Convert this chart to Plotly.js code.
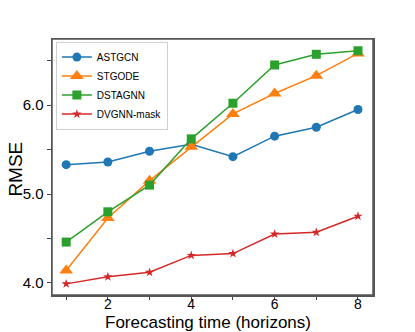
<!DOCTYPE html>
<html>
<head>
<script src="https://cdn.plot.ly/plotly-3.0.1.min.js"></script>
<style>body{margin:0;padding:0;background:#fff}#chart{width:415px;height:332px}</style>
</head>
<body>
<div id="chart"></div>
<script>
const horizons = [1, 2, 3, 4, 5, 6, 7, 8];
const astgcn = [5.33, 5.36, 5.48, 5.56, 5.42, 5.65, 5.75, 5.95];
const stgode = [4.14, 4.73, 5.15, 5.53, 5.90, 6.13, 6.33, 6.58];
const dstagnn = [4.46, 4.80, 5.10, 5.62, 6.02, 6.45, 6.57, 6.61];
const dvgnn = [3.99, 4.07, 4.12, 4.31, 4.33, 4.55, 4.57, 4.75];
const xTickVals = [1, 2, 3, 4, 5, 6, 7, 8];
const xTickText = ['', '2', '', '4', '', '6', '', '8'];
const yTickVals = [4.0, 4.5, 5.0, 5.5, 6.0, 6.5];
const yTickText = ['4.0', '', '5.0', '', '6.0', ''];

const font = 'Liberation Sans, Arial, sans-serif';
function tr(name, y, color, symbol, size) {
  return {x: horizons, y: y, name: name, type: 'scatter', mode: 'lines+markers',
    line: {color: color, width: 1.5}, marker: {symbol: symbol, size: size, color: color}};
}
const data = [
  tr('ASTGCN', astgcn, '#1f77b4', 'circle', 9),
  tr('STGODE', stgode, '#ff7f0e', 'triangle-up', 12),
  tr('DSTAGNN', dstagnn, '#2ca02c', 'square', 9),
  tr('DVGNN-mask', dvgnn, '#d62728', 'star', 7)
];
const layout = {
  width: 415, height: 332,
  margin: {l: 52, r: 42, t: 39, b: 37},
  paper_bgcolor: '#fff', plot_bgcolor: '#fff',
  font: {family: font, color: '#000'},
  showlegend: true,
  legend: {x: 0.012, y: 0.99, xanchor: 'left', yanchor: 'top', bgcolor: 'rgba(255,255,255,0.9)',
    bordercolor: '#d0d0d0', borderwidth: 1, font: {size: 10, family: font}, itemwidth: 30, tracegroupgap: 0},
  xaxis: {range: [0.66, 8.36], tickvals: xTickVals, ticktext: xTickText, ticks: 'outside', ticklen: 3,
    tickcolor: '#444', showgrid: false, zeroline: false, showline: true, linecolor: '#555', linewidth: 1.5,
    mirror: true, tickfont: {size: 14, family: font}, ticklabelstandoff: -7},
  yaxis: {range: [3.865, 6.742], tickvals: yTickVals, ticktext: yTickText, ticks: 'outside', ticklen: 4,
    tickcolor: '#444', showgrid: false, zeroline: false, showline: true, linecolor: '#555', linewidth: 1.5,
    mirror: true, tickfont: {size: 15, family: font}},
  shapes: [
    {type: 'rect', xref: 'paper', yref: 'paper', x0: 0, x1: 1, y0: 0, y1: 1,
      line: {color: '#555', width: 1.5}, fillcolor: 'rgba(0,0,0,0)', layer: 'above'}
  ],
  annotations: [
    {text: 'Forecasting time (horizons)', xref: 'paper', yref: 'paper', x: 0.485, y: -0.106,
      xanchor: 'center', yanchor: 'middle', showarrow: false, borderpad: 0, font: {size: 17, family: font}},
    {text: 'RMSE', xref: 'paper', yref: 'paper', x: -0.112, y: 0.49, textangle: -90,
      xanchor: 'center', yanchor: 'middle', showarrow: false, font: {size: 19, family: font}}
  ]
};
Plotly.newPlot('chart', data, layout, {displayModeBar: false, staticPlot: true});
</script>
</body>
</html>
